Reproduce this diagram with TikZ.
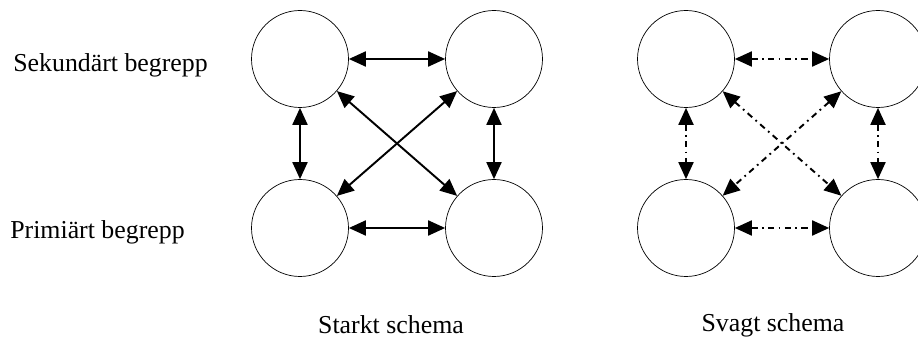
\documentclass[tikz,border=0pt]{standalone}
\usepackage{fontspec}
\setmainfont{Liberation Serif}
\usetikzlibrary{arrows.meta}
\begin{document}
\begin{tikzpicture}[
        begrepp/.style={circle,draw,thin,minimum size=1.94cm,inner sep=0pt},
        relation/.style={{Triangle[length=0.34cm,width=0.3cm]}-{Triangle[length=0.34cm,width=0.3cm]},line width=1.1pt},
        svag/.style={relation,dash pattern=on 3.5pt off 2.5pt on 1pt off 2.5pt},
        rubrik/.style={font=\fontsize{14.7}{18}\selectfont,inner sep=0pt}]
                \useasboundingbox (0,0) rectangle (18.36,6.76);
                \node[rubrik,anchor=west] (sek) at (0.26,5.46) {Sekundärt begrepp};
                \node[rubrik,anchor=west] (prim) at (0.2,2.12) {Primiärt begrepp};
                % starkt schema
                \node[begrepp] (s1) at (6.0,5.58) {};
                \node[begrepp] (s2) at (9.88,5.58) {};
                \node[begrepp] (s3) at (6.0,2.2) {};
                \node[begrepp] (s4) at (9.88,2.2) {};
                \draw[relation] (s1) -- (s2);
                \draw[relation] (s3) -- (s4);
                \draw[relation] (s1) -- (s3);
                \draw[relation] (s2) -- (s4);
                \draw[relation] (s1) -- (s4);
                \draw[relation] (s2) -- (s3);
                \node[rubrik] (stark) at (7.82,0.26) {Starkt schema};
                % svagt schema
                \node[begrepp] (v1) at (13.72,5.58) {};
                \node[begrepp] (v2) at (17.56,5.58) {};
                \node[begrepp] (v3) at (13.72,2.2) {};
                \node[begrepp] (v4) at (17.56,2.2) {};
                \draw[svag] (v1) -- (v2);
                \draw[svag] (v3) -- (v4);
                \draw[svag] (v1) -- (v3);
                \draw[svag] (v2) -- (v4);
                \draw[svag] (v1) -- (v4);
                \draw[svag] (v2) -- (v3);
                \node[rubrik] (svagt) at (15.46,0.26) {Svagt schema};
\end{tikzpicture}
\end{document}
